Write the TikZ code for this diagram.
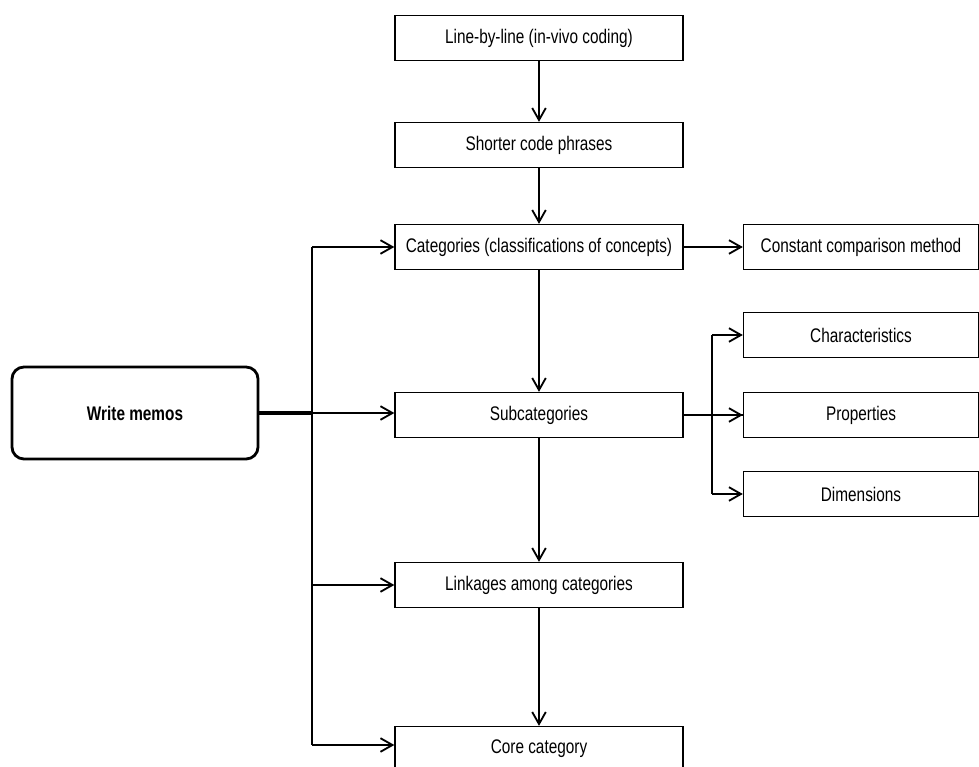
\documentclass[tikz,border=0pt]{standalone}
\usepackage{fontspec}
\setmainfont{Liberation Sans}[FakeStretch=0.78]
\usetikzlibrary{arrows.meta}

\tikzset{
  stepbox/.style={draw, line width=0.9pt, minimum width=7.2cm, minimum height=1.125cm, inner sep=0pt, font=\fontsize{14pt}{16pt}\selectfont},
  sidebox/.style={stepbox, minimum width=5.875cm},
  memobox/.style={draw, line width=2pt, rounded corners=0.3cm, minimum width=6.15cm, minimum height=2.3cm, inner sep=0pt, font=\fontsize{14pt}{16pt}\selectfont\bfseries},
  link/.style={line width=1.3pt, -{Straight Barb[length=3mm,width=3.4mm,line width=1.3pt]}},
}

\begin{document}
\begin{tikzpicture}[x=0.025cm,y=-0.025cm]
            \useasboundingbox (0,0) rectangle (979,767);
            % main column
            \node [stepbox] (lbl) at (539,38) {Line-by-line (in-vivo coding)};
            \node [stepbox] (scp) at (539,145) {Shorter code phrases};
            \node [stepbox] (cat) at (539,247) {Categories (classifications of concepts)};
            \node [stepbox] (sub) at (539,415) {Subcategories};
            \node [stepbox] (lnk) at (539,585) {Linkages among categories};
            \node [stepbox] (core) at (539,749) {Core category};
            % right column
            \node [sidebox] (ccm) at (861,247) {Constant comparison method};
            \node [sidebox] (chr) at (861,335) {Characteristics};
            \node [sidebox] (prp) at (861,415) {Properties};
            \node [sidebox] (dim) at (861,494) {Dimensions};
            % memo box
            \node [memobox] (memo) at (135,413) {Write memos};
            % arrows down the column
            \draw [link] (lbl) -- (scp);
            \draw [link] (scp) -- (cat);
            \draw [link] (cat) -- (sub);
            \draw [link] (sub) -- (lnk);
            \draw [link] (lnk) -- (core);
            \draw [link] (cat) -- (ccm);
            % memo bus
            \coordinate (bus) at (312,413);
            \draw [line width=2.6pt] (memo.east) -- (bus);
            \draw [line width=1.3pt] (312,247) -- (312,745);
            \draw [link] (bus) -- (sub.west |- bus);
            \draw [link] (312,247) -- (cat.west);
            \draw [link] (312,585) -- (lnk.west);
            \draw [link] (312,745) -- (core.west |- 0,745);
            % subcategory bus
            \coordinate (sbus) at (712,415);
            \draw [line width=1.3pt] (sub.east) -- (prp.west);
            \draw [line width=1.3pt] (712,335) -- (712,494);
            \draw [link] (sbus) -- (prp.west);
            \draw [link] (712,335) -- (chr.west);
            \draw [link] (712,494) -- (dim.west);
\end{tikzpicture}
\end{document}
